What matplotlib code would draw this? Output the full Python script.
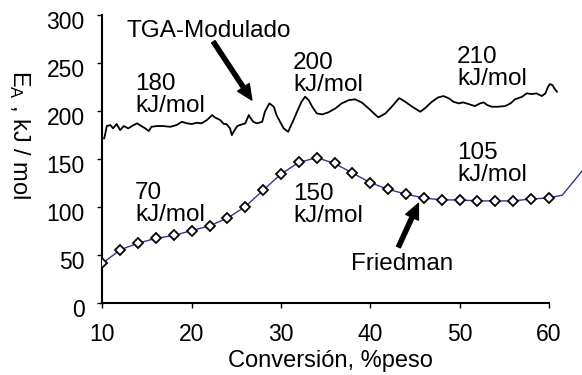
import matplotlib
matplotlib.use('Agg')
import matplotlib.pyplot as plt
from matplotlib.transforms import ScaledTranslation

plt.rcParams['font.family'] = ['Liberation Sans', 'DejaVu Sans']
plt.rcParams['mathtext.fontset'] = 'custom'
plt.rcParams['mathtext.rm'] = 'Liberation Sans'
plt.rcParams['mathtext.it'] = 'Liberation Sans:italic'

# Friedman method: activation energy at each conversion step
friedman_x = [10, 12, 14, 16, 18, 20, 22, 24, 26, 28, 30, 32, 34, 36, 38, 40,
              42, 44, 46, 48, 50, 52, 54, 56, 58, 60]
friedman_y = [41, 55, 62, 67, 70, 75, 80, 88, 100, 117, 134, 146, 151, 145, 135, 125,
              118, 113, 109, 107, 107, 106, 106, 106, 108, 109]
# fitted curve continues past the last measured point
friedman_tail_x = [61.5, 63.7]
friedman_tail_y = [112, 137]

# Modulated TGA trace
tga_x = [10.2, 10.3, 10.5, 10.9, 11.2, 11.6, 12.0, 12.4, 12.9, 13.5, 13.9, 14.2, 14.8,
         15.2, 15.5, 16.1, 16.8, 17.6, 18.3, 18.9, 19.5, 20.0, 20.6, 21.1, 21.7, 22.3,
         22.6, 23.2, 23.6, 23.9, 24.3, 24.5, 24.7, 25.1, 25.4, 26.0, 26.4, 26.5, 26.9,
         27.3, 27.9, 28.2, 28.7, 29.2, 29.5, 29.9, 30.3, 30.8, 31.4, 31.8, 32.3, 32.7,
         33.1, 33.5, 34.0, 34.6, 35.3, 36.1, 36.8, 37.6, 38.3, 39.1, 39.8, 40.4, 40.9,
         41.7, 42.4, 43.2, 43.3, 43.9, 44.7, 45.6, 46.1, 46.9, 47.6, 48.2, 48.8, 49.3,
         49.9, 50.4, 51.0, 51.7, 52.3, 52.7, 53.1, 53.6, 54.3, 55.1, 55.7, 56.2, 57.0,
         57.5, 58.1, 58.6, 59.2, 59.6, 59.9, 60.1, 60.4, 60.6, 60.9]
tga_y = [171, 174.5, 183.9, 184.9, 181.5, 186.0, 179.7, 183.9, 181.5, 184.9, 186.7, 184.9,
         181.5, 178.7, 183.1, 183.9, 183.9, 183.1, 184.9, 188.3, 186.7, 186.0, 187.3, 186.7,
         190.1, 195.3, 192.9, 190.1, 186.0, 186.0, 181.5, 174.5, 177.9, 183.9, 184.9, 186.7,
         195.3, 193.5, 188.3, 186.7, 188.3, 198.8, 207.5, 204.0, 195.3, 188.3, 181.5, 177.9,
         190.1, 198.8, 209.2, 214.4, 210.9, 204.0, 197.1, 196.0, 198.1, 202.3, 207.5, 210.9,
         211.7, 208.1, 202.3, 197.1, 192.9, 197.1, 204.0, 212.7, 212.7, 209.2, 204.0, 198.8,
         202.3, 209.2, 213.7, 215.1, 212.7, 209.2, 207.5, 208.5, 206.8, 204.7, 207.5, 208.5,
         205.7, 204.0, 204.0, 204.7, 207.5, 211.7, 214.4, 217.9, 217.2, 217.9, 215.1, 217.9,
         224.8, 227.6, 226.5, 223.1, 219.6]

fig = plt.figure(figsize=(5.82, 3.75), dpi=100)
ax = fig.add_axes([0.1758, 0.1928, 0.8242, 0.7685])

ax.plot(tga_x, tga_y, color='black', linewidth=1.3, clip_on=False)
ax.plot(friedman_x + friedman_tail_x, friedman_y + friedman_tail_y,
        color='#35359a', linewidth=1.0)
ax.plot(friedman_x, friedman_y, linestyle='none', marker='D', markersize=5,
        markerfacecolor='white', markeredgecolor='black', markeredgewidth=1.3, zorder=3)

ax.set_xlim(10, 63.7)
ax.set_ylim(0, 300)
ax.set_xticks([10, 20, 30, 40, 50, 60])
ax.set_yticks([0, 50, 100, 150, 200, 250, 300])
for side in ['top', 'right']:
    ax.spines[side].set_visible(False)
ax.spines['bottom'].set_bounds(10, 60)
ax.spines['left'].set_linewidth(1.5)
ax.spines['bottom'].set_linewidth(1.5)
ax.tick_params(axis='both', direction='out', length=3.6, width=1.0, color='black')
ax.tick_params(axis='y', labelsize=16.5, pad=9)
ax.tick_params(axis='x', labelsize=16.5, pad=11)

# y tick labels sit a little below their ticks
shift = ScaledTranslation(0, -0.05, fig.dpi_scale_trans)
for lab in ax.get_yticklabels():
    lab.set_transform(lab.get_transform() + shift)

fig.text(330 / 582, 1 - 361 / 375, 'Conversión, %peso', fontsize=17,
         ha='center', va='center')
fig.text(19 / 582, 1 - 135 / 375, r'E$_\mathrm{A}$ , kJ / mol', fontsize=17,
         rotation=270, ha='center', va='center')

# energy labels
labels = [(13.66, 216.1, '180\nkJ/mol'), (31.36, 237.9, '200\nkJ/mol'),
          (49.73, 244.7, '210\nkJ/mol'), (13.66, 102.7, '70\nkJ/mol'),
          (31.36, 101.7, '150\nkJ/mol'), (49.73, 144.3, '105\nkJ/mol')]
for lx, ly, txt in labels:
    ax.text(lx, ly, txt, fontsize=17.5, ha='left', va='center', linespacing=1.0)

# curve names with pointer arrows
ax.text(21.86, 282.7, 'TGA-Modulado', fontsize=17.5, ha='center', va='center')
ax.text(43.57, 40.3, 'Friedman', fontsize=17.5, ha='center', va='center')
arrow = dict(facecolor='black', edgecolor='black', width=3, headwidth=10,
             headlength=11, shrink=0.0)
ax.annotate('', xy=(26.74, 210.9), xytext=(22.43, 271.6), arrowprops=arrow)
ax.annotate('', xy=(45.39, 103.4), xytext=(43.15, 58.0), arrowprops=arrow)

fig.savefig('out.png', dpi=100)
